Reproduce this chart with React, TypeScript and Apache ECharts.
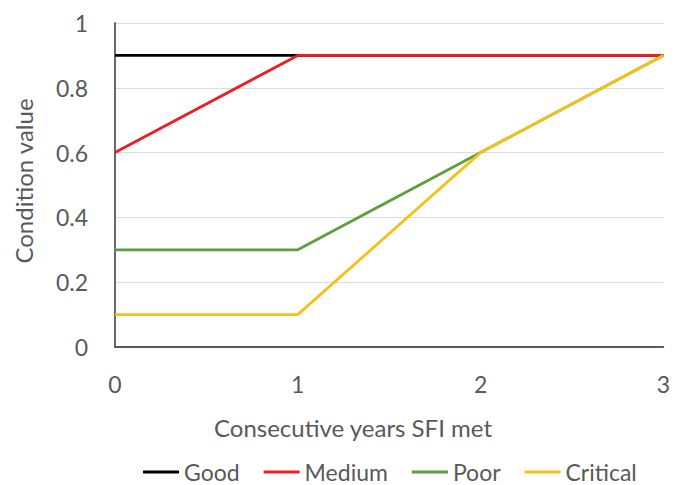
import React, { useEffect, useRef } from "react";
import * as echarts from "echarts";

const years = [0, 1, 2, 3];
const seriesNames = ["Good", "Medium", "Poor", "Critical"];
const good = [0.9, 0.9, 0.9, 0.9];
const medium = [0.6, 0.9, 0.9, 0.9];
const poor = [0.3, 0.3, 0.6, 0.9];
const critical = [0.1, 0.1, 0.6, 0.9];
const colors = ["#000000", "#EE1C25", "#5E9E3C", "#F5C018"];
const xTitle = "Consecutive years SFI met";
const yTitle = "Condition value";

const FONT = "Lato, 'Open Sans', sans-serif";
const TEXT = "#595959";

export default function App() {
  const ref = useRef<HTMLDivElement>(null);

  useEffect(() => {
    if (!ref.current) return;
    const chart = echarts.init(ref.current, undefined, { renderer: "svg" });
    const values = [good, medium, poor, critical];
    chart.setOption({
      animation: false,
      backgroundColor: "#ffffff",
      grid: { left: 115, right: 8, top: 23, bottom: 138, containLabel: false },
      xAxis: {
        type: "value",
        min: 0,
        max: 3,
        interval: 1,
        axisLine: { show: true, lineStyle: { color: "#595959", width: 1.8 } },
        axisTick: { show: false },
        splitLine: { show: false },
        axisLabel: { color: TEXT, fontSize: 23, fontFamily: FONT, margin: 25 },
      },
      yAxis: {
        type: "value",
        min: 0,
        max: 1,
        interval: 0.2,
        axisLine: { show: true, onZero: false, lineStyle: { color: "#595959", width: 1.8 } },
        axisTick: { show: false },
        splitLine: { show: true, lineStyle: { color: "#DCDCDC", width: 1 } },
        axisLabel: {
          color: TEXT,
          fontSize: 23,
          fontFamily: FONT,
          margin: 27,
          formatter: (v: number) => String(Math.round(v * 10) / 10),
        },
      },
      legend: {
        data: seriesNames,
        top: 460,
        left: 143,
        padding: 0,
        icon: "rect",
        itemWidth: 36,
        itemHeight: 3,
        itemGap: 24,
        textStyle: { color: TEXT, fontSize: 23, lineHeight: 24, fontFamily: FONT },
      },
      graphic: [
        {
          type: "text",
          x: 353,
          y: 427,
          style: {
            text: xTitle,
            fill: TEXT,
            fontSize: 24,
            fontFamily: FONT,
            align: "center",
            verticalAlign: "middle",
          },
        },
        {
          type: "text",
          x: 23,
          y: 181,
          rotation: Math.PI / 2,
          style: {
            text: yTitle,
            fill: TEXT,
            fontSize: 24,
            fontFamily: FONT,
            align: "center",
            verticalAlign: "middle",
          },
        },
      ],
      series: seriesNames.map((name, i) => ({
        name,
        type: "line",
        data: years.map((x, j) => [x, values[i][j]]),
        showSymbol: false,
        symbol: "none",
        lineStyle: { color: colors[i], width: 2.8 },
        itemStyle: { color: colors[i] },
        z: 2 + i,
      })),
    });
    return () => chart.dispose();
  }, []);

  return (
    <div
      ref={ref}
      style={{ position: "absolute", left: 0, top: 0, width: 673, height: 485 }}
    />
  );
}
